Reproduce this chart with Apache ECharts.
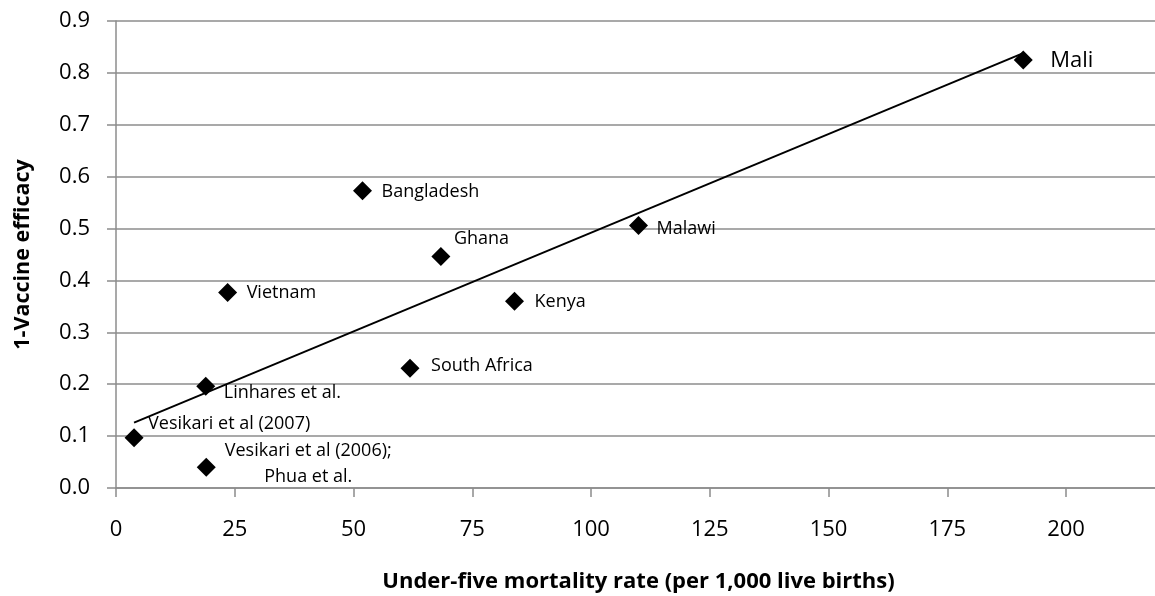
<!DOCTYPE html>
<html>
<head>
<meta charset="utf-8">
<script src="https://cdn.jsdelivr.net/npm/echarts@6/dist/echarts.min.js"></script>
<style>
html,body{margin:0;padding:0;background:#fff;}
#chart{width:1155px;height:596px;}
</style>
</head>
<body>
<div id="chart"></div>
<script>
// Data
const names = ["Vesikari et al (2007)", "Vesikari et al (2006);\nPhua et al.", "Linhares et al.", "Vietnam", "Bangladesh", "Ghana", "Kenya", "South Africa", "Malawi", "Mali"];
const mortality = [3.8, 19.0, 18.9, 23.5, 51.9, 68.4, 83.9, 61.9, 110.0, 191.0];
const oneMinusEfficacy = [0.097, 0.040, 0.196, 0.377, 0.573, 0.446, 0.360, 0.231, 0.506, 0.825];
const trendX = [3.8, 191.0];
const trendY = [0.126, 0.838];
const xTicks = [0, 25, 50, 75, 100, 125, 150, 175, 200];
const yTicks = [0.0, 0.1, 0.2, 0.3, 0.4, 0.5, 0.6, 0.7, 0.8, 0.9];

// Label placement (style only): [left offset from point centre, vertical offset]
const labelPlace = {
  "Vesikari et al (2007)": {dx: 14, dy: -14},
  "Vesikari et al (2006);\nPhua et al.": {dx: 102, dy: -3, center: true},
  "Linhares et al.": {dx: 18, dy: 7},
  "Vietnam": {dx: 19, dy: 0},
  "Bangladesh": {dx: 19, dy: 1},
  "Ghana": {dx: 13, dy: -18},
  "Kenya": {dx: 20, dy: 1},
  "South Africa": {dx: 21, dy: -2},
  "Malawi": {dx: 18, dy: 3},
  "Mali": {dx: 27, dy: 1, big: true}
};

const SYM = 19;
const FONT = "'Open Sans', sans-serif";

const pointData = names.map((n, i) => {
  const p = labelPlace[n];
  return {
    name: n,
    value: [mortality[i], oneMinusEfficacy[i]],
    label: {
      show: true,
      formatter: n,
      position: 'right',
      distance: 0,
      align: p.center ? 'center' : 'left',
      offset: [p.dx - SYM / 2, p.dy],
      fontSize: p.big ? 22 : 18,
      lineHeight: 26,
      color: '#000',
      fontFamily: FONT
    }
  };
});

const chart = echarts.init(document.getElementById('chart'), null, {renderer: 'canvas'});
chart.setOption({
  animation: false,
  backgroundColor: '#fff',
  grid: {left: 116, top: 21, bottom: 108, right: -6, containLabel: false, outerBoundsMode: 'none'},
  xAxis: {
    type: 'value',
    min: xTicks[0],
    max: 220,
    interval: 25,
    name: 'Under-five mortality rate (per 1,000 live births)',
    nameLocation: 'middle',
    nameGap: 83,
    nameTextStyle: {fontFamily: FONT, fontWeight: 'bold', fontSize: 22, color: '#000'},
    axisLine: {show: true, onZero: false, lineStyle: {color: '#8c8c8c', width: 1.5}},
    axisTick: {show: true, length: 9, inside: false, lineStyle: {color: '#8c8c8c', width: 1.5}},
    axisLabel: {
      fontFamily: FONT, fontSize: 22, color: '#000', margin: 31,
      showMaxLabel: false,
      formatter: v => (xTicks.indexOf(v) >= 0 ? String(v) : '')
    },
    splitLine: {show: false}
  },
  yAxis: {
    type: 'value',
    min: yTicks[0],
    max: yTicks[yTicks.length - 1],
    interval: 0.1,
    name: '1-Vaccine efficacy',
    nameLocation: 'middle',
    nameGap: 82,
    nameRotate: 90,
    nameTextStyle: {fontFamily: FONT, fontWeight: 'bold', fontSize: 21.5, color: '#000'},
    axisLine: {show: true, lineStyle: {color: '#8c8c8c', width: 1.5}},
    axisTick: {show: true, length: 9, lineStyle: {color: '#8c8c8c', width: 1.5}},
    axisLabel: {
      fontFamily: FONT, fontSize: 22, color: '#000', margin: 26,
      formatter: v => v.toFixed(1)
    },
    splitLine: {show: true, lineStyle: {color: '#8c8c8c', width: 1.5}}
  },
  series: [
    {
      type: 'line',
      data: trendX.map((x, i) => [x, trendY[i]]),
      showSymbol: false,
      symbol: 'none',
      lineStyle: {color: '#000', width: 2},
      silent: true,
      z: 2
    },
    {
      type: 'scatter',
      data: pointData,
      symbol: 'diamond',
      symbolSize: SYM,
      itemStyle: {color: '#000', opacity: 1},
      z: 3
    }
  ]
});
</script>
</body>
</html>
